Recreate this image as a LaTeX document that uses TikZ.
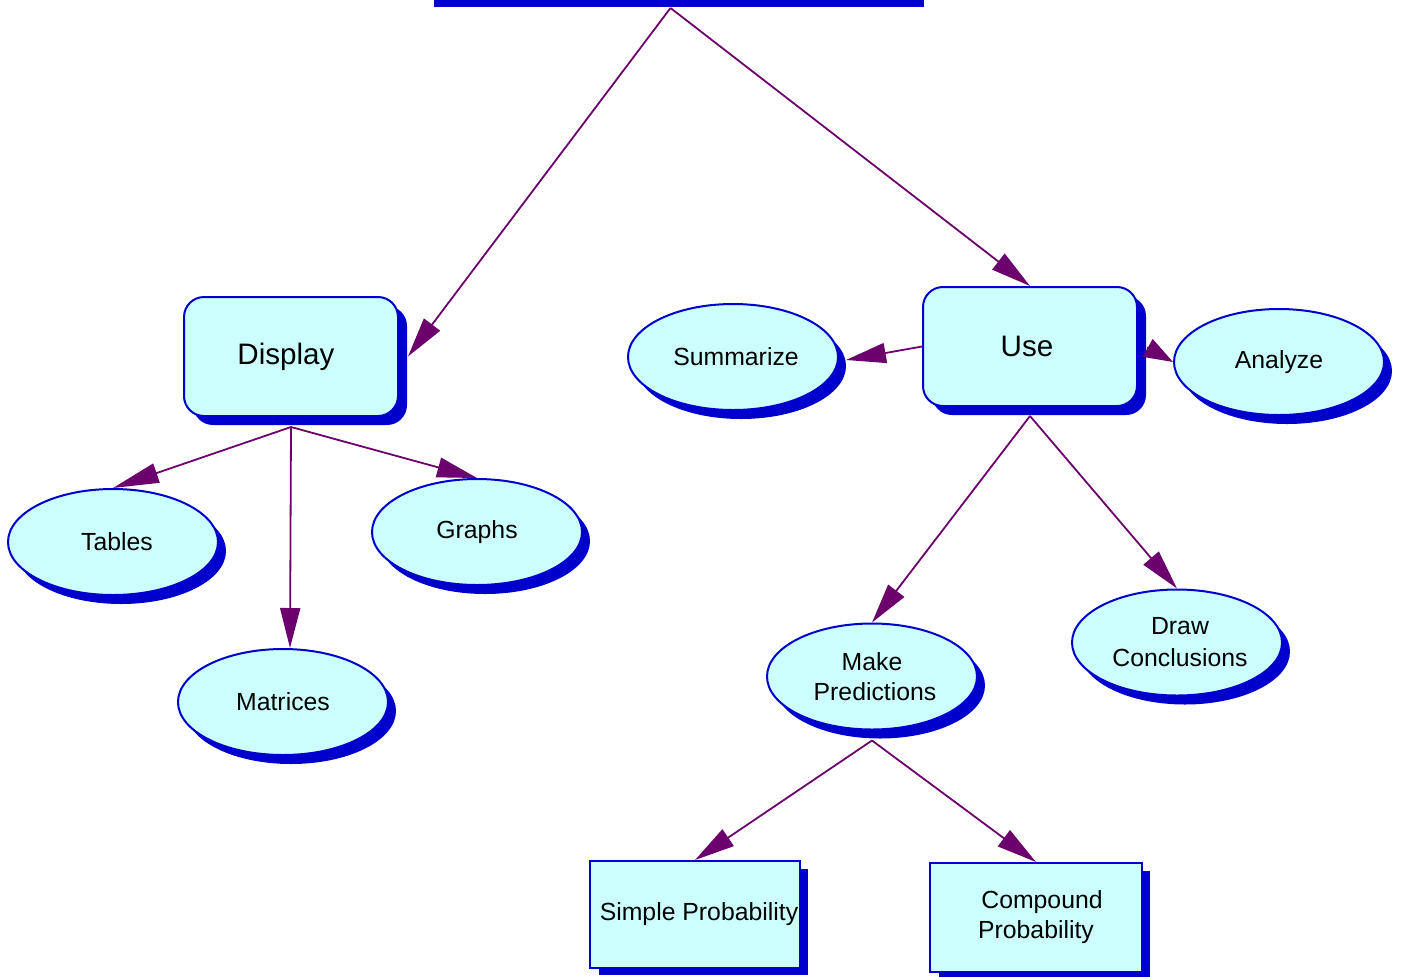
\documentclass[tikz,border=0pt]{standalone}
\usepackage{fontspec}
\setmainfont{Liberation Sans}
\usetikzlibrary{shapes.geometric,shadows,arrows.meta,calc}
\definecolor{cfill}{RGB}{204,255,255}
\definecolor{cblue}{RGB}{0,0,204}
\definecolor{cpurp}{RGB}{108,0,108}
\tikzset{
  base/.style={fill=cfill,draw=cblue,line width=1pt,inner sep=0pt,align=center,
    font=\fontsize{12.4pt}{15pt}\selectfont},
  oval/.style={base,ellipse,minimum width=105pt,minimum height=53pt,
    general shadow={shadow xshift=4pt,shadow yshift=-4.5pt,fill=cblue}},
  rbox/.style={base,rectangle,rounded corners=10pt,minimum width=107pt,minimum height=59.5pt,
    font=\fontsize{14.8pt}{17pt}\selectfont,
    general shadow={shadow xshift=4.5pt,shadow yshift=-4.5pt,fill=cblue}},
  sbox/.style={base,rectangle,line width=1pt,
    general shadow={shadow xshift=4pt,shadow yshift=-3.5pt,fill=cblue,draw=white,line width=0.5pt}},
  topbox/.style={base,rectangle,line width=1pt,
    general shadow={shadow xshift=4pt,shadow yshift=-4pt,fill=cblue,draw=white,line width=0.5pt}},
  conn/.style={draw=cpurp,line width=0.9pt,-{Triangle[length=20pt,width=10pt]},fill=cpurp},
  connlong/.style={draw=cpurp,line width=0.9pt,-{Triangle[length=23pt,width=10pt]},fill=cpurp},
  connshort/.style={draw=cpurp,line width=0.9pt,-{Triangle[length=14.5pt,width=10pt]},fill=cpurp}
}
\begin{document}
\begin{tikzpicture}[x=0.5pt,y=-0.5pt]
\useasboundingbox (0,0) rectangle (1403,976);
\clip (0,0) rectangle (1403,976);
% nodes
\node[topbox,minimum width=245.5pt,minimum height=50pt] (top) at (670.5,-51) {};
\node[rbox] (disp) at (291,356.5) {\raisebox{-1.5pt}{Display}\hspace*{5pt}};
\node[rbox] (use) at (1030,346.5) {Use\hspace*{3pt}};
\node[oval] (summ) at (733,357) {\hspace*{3pt}Summarize};
\node[oval] (anal) at (1279,362) {Analyze};
\node[oval] (tabl) at (113,542) {\hspace*{4pt}\raisebox{-1pt}{Tables}};
\node[oval] (grph) at (477,532) {Graphs};
\node[oval] (mkpr) at (872,676.5) {Make\\\hspace*{3pt}Predictions};
\node[oval] (matr) at (283,702) {Matrices};
\node[oval,font=\fontsize{12.4pt}{16pt}\selectfont] (drcn) at (1177,642.5) {\hspace*{3pt}Draw\\\hspace*{3pt}Conclusions};
\node[sbox,minimum width=105pt,minimum height=53.5pt] (simp) at (695,914.5) {\hspace*{4pt}\raisebox{-1pt}{Simple Probability}};
\node[sbox,minimum width=106pt,minimum height=54.5pt] (comp) at (1036,917.5) {\hspace*{6pt}Compound\\Probability};
% connectors
\draw[conn] ($(top.south)+(0,8)$) -- ($(disp.east)+(9,0)$);
\draw[conn] ($(top.south)+(0,8)$) -- (use.north);
\draw[conn] (use.west) -- ($(summ.east)+(7,3)$);
\draw[connshort] ($(use.east)+(9,1)$) -- (anal.west);
\draw[connlong] ($(disp.south)+(0,10)$) -- (tabl.north);
\draw[conn] ($(disp.south)+(0,10)$) -- ($(matr.north)+(7,0)$);
\draw[conn] ($(disp.south)+(0,10)$) -- (grph.north);
\draw[conn] ($(use.south)+(0,9)$) -- (mkpr.north);
\draw[conn] ($(use.south)+(0,9)$) -- (drcn.north);
\draw[conn] ($(mkpr.south)+(0,10)$) -- (simp.north);
\draw[conn] ($(mkpr.south)+(0,10)$) -- (comp.north);
\end{tikzpicture}
\end{document}
